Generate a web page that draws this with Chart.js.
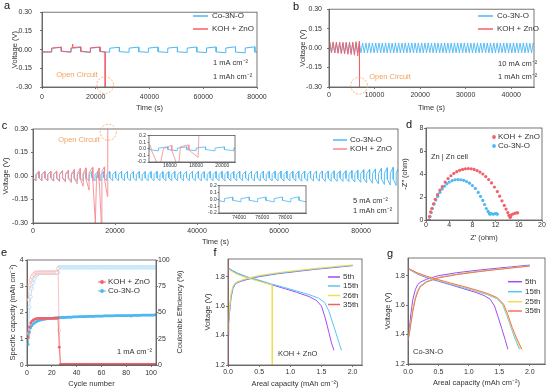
<!DOCTYPE html>
<html>
<head>
<meta charset="utf-8">
<script src="https://cdn.jsdelivr.net/npm/chart.js@4.4.1/dist/chart.umd.min.js"></script>
<style>
  body { margin: 0; background: #fff; }
  #wrap { position: relative; width: 546px; height: 390px; overflow: hidden; background: #fff; }
  canvas { position: absolute; }
</style>
</head>
<body>
<div id="wrap">
  <canvas id="pa"></canvas>
  <canvas id="pb"></canvas>
  <canvas id="pc"></canvas>
  <canvas id="pc1"></canvas>
  <canvas id="pc2"></canvas>
  <canvas id="pd"></canvas>
  <canvas id="pe"></canvas>
  <canvas id="pf"></canvas>
  <canvas id="pg"></canvas>
</div>
<script>
// ---- data ----

// a: 1 mA cm-2, half cycle 3600 s
const aHalf = 3600;
const aBlueFrom = [-0.015, 0.010, -0.015, 0.010, -0.016, 0.011, -0.016, 0.011, -0.016, 0.012, -0.017, 0.012,
  -0.017, 0.012, -0.018, 0.012, -0.018, 0.013, -0.019, 0.013, -0.020, 0.013, -0.020];
const aBlueTo = [-0.020, 0.018, -0.020, 0.018, -0.021, 0.019, -0.021, 0.019, -0.022, 0.020, -0.022, 0.020,
  -0.023, 0.020, -0.023, 0.021, -0.024, 0.021, -0.025, 0.022, -0.026, 0.022, -0.026];
const aRedT = [0, 3600, 3600, 7200, 7200, 10800, 10800, 11300, 11350, 11500, 14400, 14400, 18000, 18000, 21600, 21600, 23500, 23500];
const aRedV = [-0.022, -0.018, 0.012, 0.020, -0.012, -0.020, 0.012, 0.016, 0.045, 0.016, 0.022, -0.012, -0.022, 0.014, 0.021, -0.014, -0.020, -0.30];

// b: 10 mA cm-2, half cycle 360 s (one turning point per half)
const bHalf = 360;
const bBlue = [
  0.040, -0.036, 0.039, -0.037, 0.040, -0.036, 0.040, -0.037, 0.039, -0.036,
  0.040, -0.037, 0.040, -0.036, 0.039, -0.037, 0.040, -0.036, 0.040, -0.037,
  0.039, -0.036, 0.040, -0.037, 0.040, -0.036, 0.039, -0.037, 0.040, -0.036,
  0.040, -0.037, 0.039, -0.036, 0.040, -0.037, 0.040, -0.036, 0.039, -0.037,
  0.040, -0.036, 0.040, -0.037, 0.039, -0.036, 0.040, -0.037, 0.040, -0.036,
  0.039, -0.037, 0.040, -0.036, 0.040, -0.037, 0.039, -0.036, 0.040, -0.037,
  0.040, -0.036, 0.039, -0.037, 0.040, -0.036, 0.040, -0.037, 0.039, -0.036,
  0.040, -0.037, 0.040, -0.036, 0.039, -0.037, 0.040, -0.036, 0.040, -0.037,
  0.039, -0.036, 0.040, -0.037, 0.040, -0.036, 0.039, -0.037, 0.040, -0.036,
  0.040, -0.037, 0.039, -0.036, 0.040, -0.037, 0.040, -0.036, 0.039, -0.037,
  0.040, -0.036, 0.040, -0.037, 0.039, -0.036, 0.040, -0.037, 0.040, -0.036,
  0.039, -0.037, 0.040, -0.036, 0.040, -0.037, 0.039, -0.036, 0.040, -0.037,
  0.040, -0.036, 0.039, -0.037, 0.040];
const bRed = [0.050, -0.035, 0.048, -0.038, 0.047, -0.040, 0.046, -0.042, 0.045, -0.045,
  0.045, -0.048, 0.046, -0.050, 0.047, -0.055, 0.050, -0.060, 0.052];
const bRedTailT = [6700, 6700];
const bRedTailV = [-0.065, -0.30];

// c: 5 mA cm-2, half cycle 720 s (start and end of each half)
const cHalf = 720;
const cBlueFrom = [
  -0.012, 0.010, -0.012, 0.010, -0.012, 0.010, -0.012, 0.010, -0.012, 0.010, -0.012, 0.010,
  -0.012, 0.010, -0.012, 0.010, -0.012, 0.010, -0.012, 0.010, -0.012, 0.010, -0.012, 0.010,
  -0.012, 0.010, -0.012, 0.010, -0.012, 0.010, -0.012, 0.010, -0.012, 0.010, -0.012, 0.010,
  -0.012, 0.010, -0.012, 0.010, -0.012, 0.010, -0.012, 0.010, -0.012, 0.010, -0.012, 0.010,
  -0.012, 0.010, -0.012, 0.010, -0.012, 0.010, -0.012, 0.010, -0.012, 0.010, -0.012, 0.010,
  -0.012, 0.010, -0.012, 0.010, -0.012, 0.010, -0.012, 0.010, -0.012, 0.010, -0.012, 0.010,
  -0.012, 0.010, -0.012, 0.010, -0.012, 0.010, -0.012, 0.010, -0.012, 0.010, -0.012, 0.010,
  -0.012, 0.010, -0.012, 0.010, -0.012, 0.010, -0.012, 0.010, -0.012, 0.010, -0.012, 0.010,
  -0.012, 0.011, -0.012, 0.011, -0.013, 0.011, -0.013, 0.012, -0.013, 0.012, -0.014, 0.012,
  -0.014, 0.013, -0.015, 0.014, -0.016, 0.015, -0.017, 0.016, -0.018, 0.017, -0.019, 0.018,
  -0.020, 0.019, -0.021, 0.020];
const cBlueTo = [
  -0.030, 0.028, -0.031, 0.028, -0.030, 0.029, -0.030, 0.028, -0.031, 0.028, -0.030, 0.029,
  -0.030, 0.028, -0.031, 0.028, -0.030, 0.029, -0.030, 0.028, -0.031, 0.028, -0.030, 0.029,
  -0.030, 0.028, -0.031, 0.028, -0.030, 0.029, -0.030, 0.028, -0.031, 0.028, -0.030, 0.029,
  -0.030, 0.028, -0.031, 0.028, -0.030, 0.029, -0.030, 0.028, -0.031, 0.028, -0.030, 0.029,
  -0.030, 0.028, -0.031, 0.028, -0.030, 0.029, -0.030, 0.028, -0.031, 0.028, -0.030, 0.029,
  -0.030, 0.029, -0.031, 0.029, -0.031, 0.029, -0.031, 0.029, -0.031, 0.030, -0.031, 0.030,
  -0.031, 0.030, -0.032, 0.030, -0.032, 0.030, -0.032, 0.030, -0.032, 0.031, -0.032, 0.031,
  -0.032, 0.031, -0.032, 0.031, -0.033, 0.031, -0.033, 0.032, -0.033, 0.032, -0.033, 0.032,
  -0.033, 0.032, -0.034, 0.032, -0.034, 0.033, -0.034, 0.033, -0.035, 0.034, -0.036, 0.035,
  -0.038, 0.037, -0.040, 0.040, -0.043, 0.042, -0.046, 0.045, -0.050, 0.049, -0.054, 0.053,
  -0.058, 0.056, -0.060, 0.058];
const cRedT = [0, 720, 720, 1440, 1440, 2160, 2160, 2880, 2880, 3600, 3600, 4320, 4320, 5040, 5040, 5760,
  5760, 6480, 6480, 7200, 7200, 7920, 7920, 8640, 8640, 9360, 9360, 10080, 10080, 10800, 10800, 11520,
  11520, 12240, 12240, 12960, 12960, 13680, 13680, 14500, 14600, 15200, 15500, 16100, 16150, 16650,
  16800, 17400, 17450, 18150, 18230];
const cRedV = [-0.015, -0.032, 0.010, 0.028, -0.012, -0.030, 0.010, 0.030, -0.012, -0.032, 0.010, 0.030,
  -0.012, -0.033, 0.012, 0.032, -0.014, -0.035, 0.012, 0.035, -0.015, -0.038, 0.014, 0.038, -0.016, -0.042,
  0.015, 0.042, -0.018, -0.050, 0.018, 0.048, -0.020, -0.065, 0.020, 0.052, -0.022, -0.090, 0.020, 0.055,
  -0.030, -0.30, 0.000, 0.050, -0.030, -0.30, 0.030, 0.058, -0.020, -0.130, 0.30];

// d: Nyquist plots
const dRedX = [0.5, 0.6, 0.8, 1.0, 1.3, 1.6, 2.0, 2.4, 2.8, 3.3, 3.8, 4.3, 4.8, 5.3, 5.8, 6.3, 6.8, 7.3, 7.8, 8.3,
  8.8, 9.3, 9.8, 10.3, 10.8, 11.3, 11.8, 12.3, 12.7, 13.1, 13.5, 13.8, 14.1, 14.3, 14.5, 14.6, 14.7, 15.0, 15.3, 15.6, 15.8];
const dRedY = [0.0, 0.3, 0.7, 1.0, 1.4, 1.8, 2.2, 2.6, 2.9, 3.3, 3.6, 3.85, 4.05, 4.2, 4.32, 4.4, 4.45, 4.47, 4.45, 4.4,
  4.3, 4.17, 4.0, 3.78, 3.52, 3.22, 2.87, 2.47, 2.07, 1.67, 1.27, 0.95, 0.65, 0.4, 0.22, 0.3, 0.45, 0.52, 0.58, 0.62, 0.62];
const dBlueX = [0.6, 0.7, 0.9, 1.1, 1.4, 1.7, 2.0, 2.4, 2.8, 3.2, 3.6, 4.0, 4.5, 5.0, 5.5, 6.0, 6.5, 7.0, 7.5, 8.0,
  8.5, 9.0, 9.4, 9.8, 10.1, 10.4, 10.7, 10.9, 11.0, 11.1, 11.3, 11.6, 11.9, 12.2, 12.3];
const dBlueY = [0.0, 0.3, 0.65, 1.0, 1.4, 1.75, 2.05, 2.4, 2.7, 2.95, 3.15, 3.3, 3.42, 3.5, 3.52, 3.5, 3.45, 3.35, 3.2, 3.0,
  2.75, 2.4, 2.05, 1.7, 1.35, 1.0, 0.75, 0.6, 0.5, 0.55, 0.55, 0.5, 0.55, 0.55, 0.5];

// e: cycling, cycles 1..104
const eRedCap = [1.05, 1.45, 1.6, 1.67, 1.71, 1.74, 1.76, 1.77, 1.78, 1.78,
  1.78, 1.78, 1.78, 1.78, 1.78, 1.78, 1.78, 1.78, 1.78, 1.78,
  1.78, 1.78, 1.78, 1.78, 1.79, 0.68, 0.02, 0.02, 0.02, 0.02,
  0.02, 0.02, 0.02, 0.02, 0.02, 0.02, 0.02, 0.02, 0.02, 0.02,
  0.02, 0.02, 0.02, 0.02, 0.02, 0.02, 0.02, 0.02, 0.02, 0.02,
  0.02, 0.02, 0.02, 0.02, 0.02, 0.02, 0.02, 0.02, 0.02, 0.02,
  0.02, 0.02, 0.02, 0.02, 0.02, 0.02, 0.02, 0.02, 0.02, 0.02,
  0.02, 0.02, 0.02, 0.02, 0.02, 0.02, 0.02, 0.02, 0.02, 0.02,
  0.02, 0.02, 0.02, 0.02, 0.02, 0.02, 0.02, 0.02, 0.02, 0.02,
  0.02, 0.02, 0.02, 0.02, 0.02, 0.02, 0.02, 0.02, 0.02, 0.02,
  0.02, 0.02, 0.02, 0.02];
const eBlueCap = [0.78, 1.25, 1.42, 1.5, 1.56, 1.6, 1.63, 1.66, 1.68, 1.7,
  1.71, 1.72, 1.73, 1.74, 1.75, 1.76, 1.76, 1.77, 1.77, 1.78,
  1.78, 1.79, 1.79, 1.79, 1.8, 1.8, 1.8, 1.81, 1.81, 1.81,
  1.81, 1.82, 1.82, 1.82, 1.82, 1.82, 1.83, 1.83, 1.83, 1.83,
  1.83, 1.84, 1.84, 1.84, 1.84, 1.84, 1.84, 1.85, 1.85, 1.85,
  1.85, 1.85, 1.85, 1.85, 1.86, 1.86, 1.86, 1.86, 1.86, 1.86,
  1.86, 1.87, 1.87, 1.87, 1.87, 1.87, 1.87, 1.87, 1.87, 1.87,
  1.88, 1.88, 1.88, 1.88, 1.88, 1.88, 1.88, 1.88, 1.88, 1.88,
  1.88, 1.88, 1.89, 1.86, 1.89, 1.89, 1.89, 1.89, 1.89, 1.89,
  1.89, 1.9, 1.9, 1.9, 1.9, 1.9, 1.9, 1.9, 1.9, 1.9,
  1.9, 1.9, 1.91, 1.91];
const eRedCE = [62, 76, 81, 84, 86, 87, 88, 88, 88, 88,
  88, 88, 88, 88, 88, 88, 88, 88, 88, 88,
  88, 88, 88, 88, 92, 33, 0, 0, 0, 0,
  0, 0, 0, 0, 0, 0, 0, 0, 0, 0,
  0, 0, 0, 0, 0, 0, 0, 0, 0, 0,
  0, 0, 0, 0, 0, 0, 0, 0, 0, 0,
  0, 0, 0, 0, 0, 0, 0, 0, 0, 0,
  0, 0, 0, 0, 0, 0, 0, 0, 0, 0,
  0, 0, 0, 0, 0, 0, 0, 0, 0, 0,
  0, 0, 0, 0, 0, 0, 0, 0, 0, 0,
  0, 0, 0, 0];
const eBlueCE = [30, 55, 65, 73, 78, 82, 85, 86, 87, 88,
  88, 88, 88, 88, 88, 88, 88, 88, 88, 88,
  88, 88, 88, 88, 88, 93, 93, 93, 93, 93,
  93, 93, 93, 93, 93, 93, 93, 93, 93, 93,
  93, 93, 93, 93, 93, 93, 93, 93, 93, 93,
  93, 93, 93, 93, 93, 93, 93, 93, 93, 93,
  93, 93, 93, 93, 93, 93, 93, 93, 93, 93,
  93, 93, 93, 93, 93, 93, 93, 93, 93, 93,
  93, 93, 93, 93, 93, 93, 93, 93, 93, 93,
  93, 93, 93, 93, 93, 93, 93, 93, 93, 93,
  93, 93, 93, 93];

// f: KOH + ZnO voltage profiles
const fChX = [0, 0.01, 0.03, 0.05, 0.08, 0.11, 0.14, 0.2, 0.3, 0.5, 0.8, 1.1, 1.4, 1.7, 2.0];
const fCh5 = [1.40, 1.48, 1.58, 1.66, 1.72, 1.745, 1.757, 1.767, 1.78, 1.80, 1.82, 1.835, 1.85, 1.862, 1.875];
const fCh15 = [1.41, 1.49, 1.59, 1.67, 1.725, 1.75, 1.76, 1.77, 1.784, 1.804, 1.823, 1.838, 1.852, 1.865, 1.877];
const fCh26 = [1.43, 1.52, 1.62, 1.69, 1.735, 1.755, 1.764, 1.774, 1.788, 1.808, 1.827, 1.842, 1.856, 1.868, 1.88];
const fDis5X = [0, 0.05, 0.15, 0.3, 0.5, 0.7, 0.9, 1.1, 1.3, 1.42, 1.5, 1.56, 1.62, 1.66, 1.70];
const fDis5 = [1.86, 1.845, 1.822, 1.797, 1.772, 1.745, 1.72, 1.694, 1.665, 1.638, 1.60, 1.52, 1.42, 1.35, 1.30];
const fDis15X = [0, 0.05, 0.15, 0.3, 0.5, 0.7, 0.9, 1.1, 1.3, 1.45, 1.55, 1.62, 1.70, 1.76, 1.82];
const fDis15 = [1.86, 1.847, 1.825, 1.80, 1.776, 1.75, 1.727, 1.703, 1.678, 1.655, 1.625, 1.565, 1.46, 1.38, 1.30];
const fDis26X = [0, 0.05, 0.15, 0.3, 0.5, 0.71, 0.71];
const fDis26 = [1.85, 1.838, 1.815, 1.793, 1.768, 1.743, 1.2];
const f35X = [0, 0];
const f35 = [1.2, 1.93];

// g: Co-3N-O voltage profiles
const gChX = [0, 0.02, 0.05, 0.08, 0.12, 0.16, 0.2, 0.3, 0.5, 0.8, 1.1, 1.4, 1.7, 2.0];
const gCh5 = [1.33, 1.43, 1.55, 1.64, 1.705, 1.74, 1.755, 1.775, 1.80, 1.82, 1.835, 1.848, 1.86, 1.872];
const gCh15 = [1.36, 1.41, 1.49, 1.57, 1.65, 1.70, 1.73, 1.76, 1.788, 1.81, 1.826, 1.841, 1.854, 1.866];
const gCh25 = [1.37, 1.41, 1.49, 1.57, 1.645, 1.695, 1.727, 1.758, 1.786, 1.808, 1.825, 1.84, 1.853, 1.866];
const gCh35 = [1.37, 1.40, 1.48, 1.56, 1.64, 1.69, 1.724, 1.756, 1.785, 1.807, 1.824, 1.839, 1.852, 1.865];
const gDis5X = [0, 0.05, 0.15, 0.3, 0.5, 0.7, 0.9, 1.1, 1.25, 1.35, 1.42, 1.48, 1.54, 1.60, 1.64];
const gDis5 = [1.85, 1.836, 1.812, 1.787, 1.762, 1.738, 1.713, 1.688, 1.665, 1.64, 1.595, 1.52, 1.44, 1.36, 1.30];
const gDis15X = [0, 0.05, 0.15, 0.3, 0.5, 0.7, 0.9, 1.1, 1.3, 1.45, 1.55, 1.62, 1.69, 1.76, 1.83];
const gDis15 = [1.85, 1.838, 1.815, 1.79, 1.766, 1.742, 1.72, 1.697, 1.672, 1.645, 1.605, 1.535, 1.45, 1.37, 1.30];
const gDis25X = [0, 0.05, 0.15, 0.3, 0.5, 0.7, 0.9, 1.1, 1.3, 1.46, 1.56, 1.63, 1.70, 1.78, 1.85];
const gDis25 = [1.85, 1.84, 1.818, 1.794, 1.77, 1.747, 1.725, 1.702, 1.677, 1.648, 1.606, 1.535, 1.45, 1.37, 1.30];
const gDis35X = [0, 0.05, 0.15, 0.3, 0.5, 0.7, 0.9, 1.1, 1.3, 1.47, 1.57, 1.64, 1.71, 1.79, 1.87];
const gDis35 = [1.85, 1.84, 1.82, 1.797, 1.773, 1.75, 1.728, 1.705, 1.68, 1.65, 1.607, 1.535, 1.45, 1.37, 1.30];

// tick values
const vTicks = [-0.30, -0.15, 0, 0.15, 0.30];
const aXTicks = [0, 20000, 40000, 60000, 80000];
const bXTicks = [0, 10000, 20000, 30000, 40000];
const cXTicks = [0, 20000, 40000, 60000, 80000];
const insetYTicks = [-0.2, -0.1, 0, 0.1, 0.2];
const c1XTicks = [16000, 18000, 20000];
const c2XTicks = [74000, 76000, 78000];
const dXTicks = [0, 4, 8, 12, 16, 20];
const dYTicks = [0, 2, 4, 6, 8];
const eXTicks = [0, 20, 40, 60, 80, 100];
const eYTicks = [0, 1, 2, 3, 4];
const eY1Ticks = [0, 25, 50, 75, 100];
const fgXTicks = [0, 0.5, 1.0, 1.5, 2.0];
const fgYTicks = [1.2, 1.4, 1.6, 1.8];

// ---- styles ----
const FONT = '"Liberation Sans", Arial, sans-serif';
const AXIS = '#555', TXT = '#333', ORANGE = '#F3A25C';
const BLUE = '#4DB8F2', RED = '#F2606A', RED_C = '#F58A8E';
const BLUE_L = '#A6D9F7', RED_L = '#F8B0B0';
const PURPLE = '#A24CF2', SKY = '#56C6F7', YEL = '#EDE050', RED2 = '#F26262', ORG2 = '#F5735A';

// ---- helpers ----
function pts(xs, ys) { return xs.map((x, i) => ({x: x, y: ys[i]})); }
function halves(from, to, half) {
  const p = [];
  from.forEach((v, i) => { p.push({x: i * half, y: v}, {x: (i + 1) * half, y: to[i]}); });
  return p;
}
function tri(vals, half) { return vals.map((v, i) => ({x: i * half + half / 2, y: v})); }
function line(data, color, w, extra) {
  return Object.assign({data: data, showLine: true, borderColor: color, backgroundColor: color,
    borderWidth: w || 1, pointRadius: 0, tension: 0}, extra || {});
}

const DECO = {};

Chart.register({
  id: 'deco',
  beforeDatasetsDraw(chart) {
    const d = DECO[chart.canvas.id];
    if (!d || !d.fill) return;
    const a = chart.chartArea, ctx = chart.ctx;
    ctx.save(); ctx.fillStyle = '#fff';
    ctx.fillRect(a.left, a.top, a.right - a.left, a.bottom - a.top);
    ctx.restore();
  },
  afterDraw(chart) {
    const d = DECO[chart.canvas.id];
    if (!d) return;
    const ctx = chart.ctx, a = chart.chartArea, ox = d.ox, oy = d.oy;
    ctx.save();
    ctx.strokeStyle = AXIS; ctx.lineWidth = 0.8;
    ctx.strokeRect(a.left, a.top, a.right - a.left, a.bottom - a.top);
    ctx.textBaseline = 'middle';
    if (d.letter) {
      ctx.fillStyle = '#111'; ctx.font = '11px ' + FONT; ctx.textAlign = 'center';
      ctx.fillText(d.letter.t, d.letter.x - ox, d.letter.y - oy);
    }
    (d.texts || []).forEach(t => {
      ctx.fillStyle = t.c || TXT;
      ctx.font = (t.s || 7.5) + 'px ' + FONT;
      if (t.rot) {
        ctx.save(); ctx.translate(t.x - ox, t.y - oy); ctx.rotate(-Math.PI / 2);
        ctx.textAlign = 'center'; ctx.fillText(t.t, 0, 0); ctx.restore();
      } else {
        ctx.textAlign = t.align || 'left';
        ctx.fillText(t.t, t.x - ox, t.y - oy);
      }
    });
    (d.circles || []).forEach(c => {
      const px = chart.scales.x.getPixelForValue(c.x), py = chart.scales.y.getPixelForValue(c.y);
      ctx.strokeStyle = ORANGE; ctx.lineWidth = 0.8; ctx.setLineDash([2, 1.5]);
      ctx.beginPath(); ctx.arc(px, py, c.r, 0, Math.PI * 2); ctx.stroke();
      ctx.setLineDash([]);
    });
    (d.legend || []).forEach(l => {
      ctx.strokeStyle = l.c; ctx.fillStyle = l.c; ctx.lineWidth = l.w || 1.5;
      if (l.type !== 'dot') {
        ctx.beginPath(); ctx.moveTo(l.x1 - ox, l.y - oy); ctx.lineTo(l.x2 - ox, l.y - oy); ctx.stroke();
      }
      if (l.type === 'dot' || l.type === 'linedot') {
        ctx.beginPath(); ctx.arc((l.x1 + l.x2) / 2 - ox, l.y - oy, 1.9, 0, Math.PI * 2); ctx.fill();
      }
      ctx.fillStyle = TXT; ctx.font = '8px ' + FONT; ctx.textAlign = 'left';
      ctx.fillText(l.t, l.lx - ox, l.y - oy);
    });
    ctx.restore();
  }
});

function axis(pos, s, size) {
  const vert = pos !== 'bottom';
  const fs = s.fs || 7;
  return {
    type: 'linear', position: pos, min: s.min, max: s.max,
    afterBuildTicks: sc => { sc.ticks = s.ticks.map(v => ({value: v})); },
    afterFit: sc => { if (vert) sc.width = size; else sc.height = size; },
    grid: {drawOnChartArea: false, drawTicks: true, tickLength: s.tl || 2, color: AXIS, lineWidth: 0.8},
    border: {display: true, color: AXIS, width: 0.8},
    ticks: {autoSkip: false, maxRotation: 0, minRotation: 0, padding: s.pad, color: TXT,
      font: {family: FONT, size: fs}, callback: s.fmt},
    title: s.title ? {display: true, text: s.title, color: TXT, font: {family: FONT, size: 7.5},
      padding: {top: s.tpad, bottom: s.tpad}} : {display: false}
  };
}

function panel(id, box, area, datasets, o) {
  const cv = document.getElementById(id);
  cv.width = box.w; cv.height = box.h;
  cv.style.left = box.x + 'px'; cv.style.top = box.y + 'px';
  const leftW = area.l - box.x, bottomH = box.y + box.h - area.b, rightW = box.x + box.w - area.r;
  DECO[id] = Object.assign({ox: box.x, oy: box.y}, o.deco || {});
  const scales = {x: axis('bottom', o.x, bottomH), y: axis('left', o.y, leftW)};
  if (o.y1) scales.y1 = axis('right', o.y1, rightW);
  return new Chart(cv, {
    type: 'scatter',
    data: {datasets: datasets},
    options: {
      responsive: false, animation: false, events: [],
      layout: {padding: {left: 0, top: area.t - box.y, right: o.y1 ? 0 : rightW, bottom: 0}},
      plugins: {legend: {display: false}, tooltip: {enabled: false}},
      scales: scales
    }
  });
}

const f2 = v => v.toFixed(2), f1 = v => v.toFixed(1), f0 = v => String(v);

// ---- a ----
panel('pa', {x: 0, y: 0, w: 273, h: 116}, {l: 42, t: 9, r: 257, b: 87}, [
  line(pts(aRedT, aRedV), RED, 1),
  line(halves(aBlueFrom, aBlueTo, aHalf), BLUE, 1)
], {
  x: {min: 0, max: 80000, ticks: aXTicks, fmt: f0, pad: 3.8, title: 'Time (s)', tpad: 3.5},
  y: {min: -0.30, max: 0.30, ticks: vTicks, fmt: f2, pad: 8, title: 'Voltage (V)', tpad: 10},
  deco: {
    letter: {t: 'a', x: 7, y: 6},
    texts: [
      {t: '1 mA cm⁻²', x: 213, y: 63},
      {t: '1 mAh cm⁻²', x: 213, y: 77},
      {t: 'Open Circuit', x: 77, y: 75, c: ORANGE, align: 'center'}
    ],
    circles: [{x: 23500, y: -0.285, r: 8.3}],
    legend: [
      {t: 'Co-3N-O', c: BLUE, x1: 193, x2: 208, y: 16, lx: 212},
      {t: 'KOH + ZnO', c: RED, x1: 193, x2: 208, y: 29, lx: 212}
    ]
  }
});

// ---- b ----
panel('pb', {x: 273, y: 0, w: 273, h: 116}, {l: 329, t: 9, r: 534, b: 87}, [
  line(tri(bRed, bHalf).concat(pts(bRedTailT, bRedTailV)), RED, 0.9),
  line(tri(bBlue, bHalf), BLUE, 0.9)
], {
  x: {min: 0, max: 45000, ticks: bXTicks, fmt: f0, pad: 1.4, title: 'Time (s)', tpad: 3.5},
  y: {min: -0.30, max: 0.30, ticks: vTicks, fmt: f2, pad: 5, title: 'Voltage (V)', tpad: 25.5},
  deco: {
    letter: {t: 'b', x: 296, y: 6.5},
    texts: [
      {t: '10 mA cm⁻²', x: 498, y: 64},
      {t: '1 mAh cm⁻²', x: 498, y: 77},
      {t: 'Open Circuit', x: 390, y: 77, c: ORANGE, align: 'center'}
    ],
    circles: [{x: 6600, y: -0.29, r: 8.3}],
    legend: [
      {t: 'Co-3N-O', c: BLUE, x1: 478, x2: 493, y: 16, lx: 497},
      {t: 'KOH + ZnO', c: RED, x1: 478, x2: 493, y: 29, lx: 497}
    ]
  }
});

// ---- c ----
const cSets = w => [
  line(pts(cRedT, cRedV), RED_C, w),
  line(halves(cBlueFrom, cBlueTo, cHalf), BLUE, w)
];
panel('pc', {x: 0, y: 118, w: 410, h: 132}, {l: 33, t: 129, r: 398, b: 223}, cSets(0.9), {
  x: {min: 0, max: 89000, ticks: cXTicks, fmt: f0, pad: 2.1, title: 'Time (s)', tpad: 3.5},
  y: {min: -0.30, max: 0.30, ticks: vTicks, fmt: f2, pad: 3, title: 'Voltage (V)', tpad: 1.5},
  deco: {
    letter: {t: 'c', x: 4.5, y: 125.5},
    texts: [
      {t: '5 mA cm⁻²', x: 353, y: 201},
      {t: '1 mAh cm⁻²', x: 353, y: 211},
      {t: 'Open Circuit', x: 79, y: 140, c: ORANGE, align: 'center'}
    ],
    circles: [{x: 18360, y: 0.279, r: 8}],
    legend: [
      {t: 'Co-3N-O', c: BLUE, x1: 333, x2: 347, y: 140, lx: 350},
      {t: 'KOH + ZnO', c: RED_C, x1: 333, x2: 347, y: 149, lx: 350}
    ]
  }
});
panel('pc1', {x: 128, y: 131, w: 110, h: 37}, {l: 149, t: 134, r: 235, b: 162}, cSets(0.8), {
  x: {min: 14400, max: 20970, ticks: c1XTicks, fmt: f0, pad: -1, fs: 5, tl: 1.5},
  y: {min: -0.2, max: 0.2, ticks: insetYTicks, fmt: f1, pad: 1.5, fs: 5, tl: 1.5},
  deco: {fill: true}
});
panel('pc2', {x: 198, y: 182, w: 111, h: 39}, {l: 219, t: 185, r: 306, b: 213}, cSets(0.8), {
  x: {min: 72250, max: 79800, ticks: c2XTicks, fmt: f0, pad: 0.4, fs: 5, tl: 1.5},
  y: {min: -0.2, max: 0.2, ticks: insetYTicks, fmt: f1, pad: 0.8, fs: 5, tl: 1.5},
  deco: {fill: true}
});

// ---- d ----
panel('pd', {x: 400, y: 118, w: 146, h: 132}, {l: 426, t: 128, r: 543, b: 220}, [
  {data: pts(dRedX, dRedY), pointRadius: 1.6, pointBorderWidth: 0, backgroundColor: RED, borderColor: RED},
  {data: pts(dBlueX, dBlueY), pointRadius: 1.6, pointBorderWidth: 0, backgroundColor: BLUE, borderColor: BLUE}
], {
  x: {min: 0, max: 20, ticks: dXTicks, fmt: f0, pad: -0.9, title: 'Z′ (ohm)', tpad: 7.5},
  y: {min: 0, max: 8, ticks: dYTicks, fmt: f0, pad: 0.5, title: '-Z″ (ohm)', tpad: 0.5},
  deco: {
    letter: {t: 'd', x: 409, y: 124.5},
    texts: [{t: 'Zn | Zn cell', x: 431, y: 157}],
    legend: [
      {t: 'KOH + ZnO', c: RED, type: 'dot', x1: 494, x2: 494, y: 137, lx: 498},
      {t: 'Co-3N-O', c: BLUE, type: 'dot', x1: 494, x2: 494, y: 146, lx: 498}
    ]
  }
});

// ---- e ----
const eCyc = eBlueCap.map((v, i) => i + 1);
const capStyle = c => ({pointRadius: 1.4, pointBorderWidth: 0, pointBackgroundColor: c});
const ceStyle = c => ({pointRadius: 1.6, pointBorderWidth: 0.7, pointBackgroundColor: '#fff', pointBorderColor: c, yAxisID: 'y1'});
panel('pe', {x: 0, y: 245, w: 190, h: 145}, {l: 27, t: 260, r: 156, b: 365}, [
  line(pts(eCyc, eRedCap), RED, 0.8, capStyle(RED)),
  line(pts(eCyc, eBlueCap), BLUE, 0.8, capStyle(BLUE)),
  line(pts(eCyc, eRedCE), RED_L, 0.8, ceStyle(RED_L)),
  line(pts(eCyc, eBlueCE), BLUE_L, 0.8, ceStyle(BLUE_L))
], {
  x: {min: 0, max: 104, ticks: eXTicks, fmt: f0, pad: 2.1, title: 'Cycle number', tpad: 1.5},
  y: {min: 0, max: 4, ticks: eYTicks, fmt: f0, pad: 1.4, title: 'Specific capacity (mAh cm⁻²)', tpad: 8},
  y1: {min: 0, max: 100, ticks: eY1Ticks, fmt: f0, pad: 0},
  deco: {
    letter: {t: 'e', x: 4, y: 253},
    texts: [
      {t: '1 mA cm⁻²', x: 117, y: 352},
      {t: 'Coulombic Efficiency (%)', x: 180, y: 312, rot: true}
    ],
    legend: [
      {t: 'KOH + ZnO', c: RED, type: 'linedot', w: 1, x1: 98, x2: 106, y: 282, lx: 108},
      {t: 'Co-3N-O', c: BLUE, type: 'linedot', w: 1, x1: 98, x2: 106, y: 291, lx: 108}
    ]
  }
});

// ---- f ----
panel('pf', {x: 190, y: 245, w: 175, h: 145}, {l: 228, t: 259, r: 362, b: 365}, [
  line(pts(f35X, f35), RED2, 1),
  line(pts(fChX, fCh26), YEL, 1), line(pts(fDis26X, fDis26), YEL, 1),
  line(pts(fChX, fCh15), SKY, 1), line(pts(fDis15X, fDis15), SKY, 1),
  line(pts(fChX, fCh5), PURPLE, 1), line(pts(fDis5X, fDis5), PURPLE, 1)
], {
  x: {min: 0, max: 2.15, ticks: fgXTicks, fmt: f1, pad: 0.8, title: 'Areal capacity (mAh cm⁻²)', tpad: 1.5},
  y: {min: 1.2, max: 1.92, ticks: fgYTicks, fmt: f1, pad: 1, title: 'Voltage (V)', tpad: 13.5},
  deco: {
    letter: {t: 'f', x: 215, y: 253},
    texts: [{t: 'KOH + ZnO', x: 278, y: 354}],
    legend: [
      {t: '5th', c: PURPLE, x1: 328, x2: 340, y: 277, lx: 343},
      {t: '15th', c: SKY, x1: 328, x2: 340, y: 286, lx: 343},
      {t: '26th', c: YEL, x1: 328, x2: 340, y: 295.5, lx: 343},
      {t: '35th', c: RED2, x1: 328, x2: 340, y: 304.5, lx: 343}
    ]
  }
});

// ---- g ----
panel('pg', {x: 368, y: 245, w: 178, h: 145}, {l: 408, t: 258, r: 545, b: 364}, [
  line(pts(gChX, gCh35), ORG2, 1), line(pts(gDis35X, gDis35), ORG2, 1),
  line(pts(gChX, gCh25), YEL, 1), line(pts(gDis25X, gDis25), YEL, 1),
  line(pts(gChX, gCh15), SKY, 1), line(pts(gDis15X, gDis15), SKY, 1),
  line(pts(gChX, gCh5), PURPLE, 1), line(pts(gDis5X, gDis5), PURPLE, 1)
], {
  x: {min: 0, max: 2.25, ticks: fgXTicks, fmt: f1, pad: 1.8, title: 'Areal capacity (mAh cm⁻²)', tpad: 2.5},
  y: {min: 1.2, max: 1.92, ticks: fgYTicks, fmt: f1, pad: 1, title: 'Voltage (V)', tpad: 15.5},
  deco: {
    letter: {t: 'g', x: 390, y: 253.5},
    texts: [{t: 'Co-3N-O', x: 413, y: 352}],
    legend: [
      {t: '5th', c: PURPLE, x1: 508, x2: 522, y: 281.7, lx: 525},
      {t: '15th', c: SKY, x1: 508, x2: 522, y: 291.7, lx: 525},
      {t: '25th', c: YEL, x1: 508, x2: 522, y: 301.7, lx: 525},
      {t: '35th', c: ORG2, x1: 508, x2: 522, y: 311, lx: 525}
    ]
  }
});
</script>
</body>
</html>
